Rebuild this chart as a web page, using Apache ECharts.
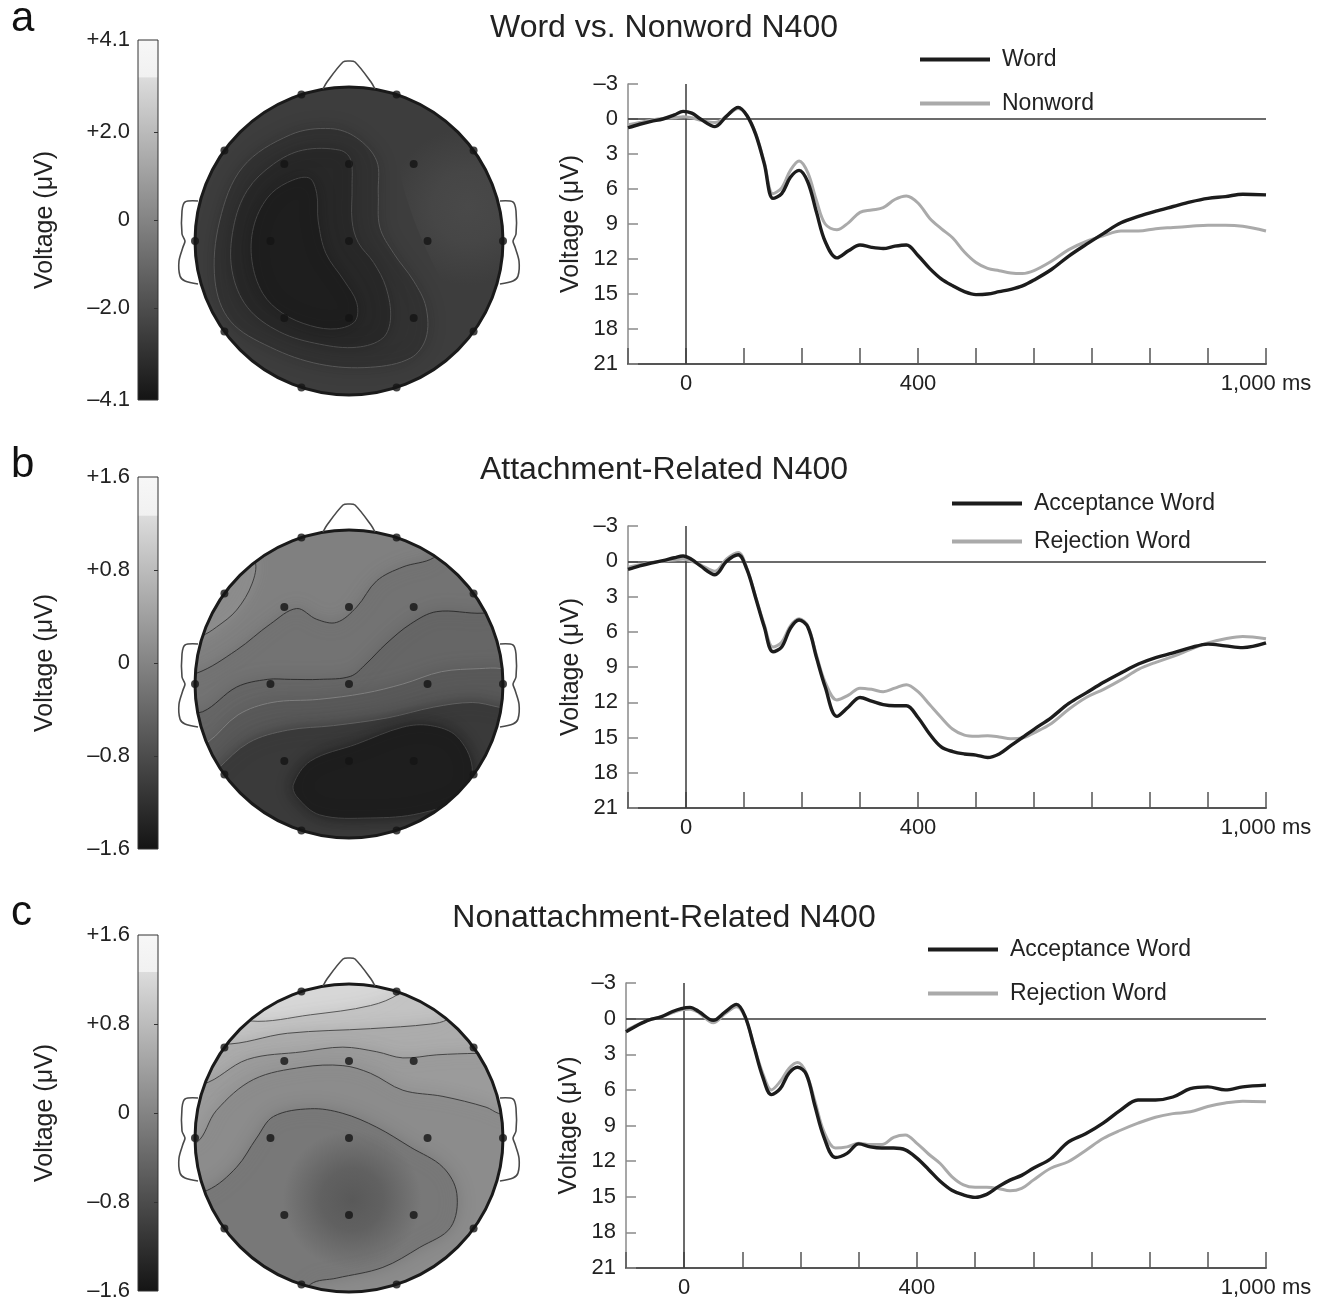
<!DOCTYPE html>
<html>
<head>
<meta charset="utf-8">
<title>N400 ERP figure</title>
<script src="https://cdn.jsdelivr.net/npm/echarts@6/dist/echarts.min.js"></script>
<style>
  html, body { margin: 0; padding: 0; background: #fff; }
  #chart { width: 1327px; height: 1302px; }
</style>
</head>
<body>
<div id="chart"></div>
<script>
// ---- waveform data (ms, µV; positive plotted downward) ----
var times = [-100, -80, -60, -40, -20, -5, 10, 25, 50, 70, 90, 105, 120, 135, 150, 165, 180, 195, 210, 225, 240,
  260, 280, 300, 320, 340, 360, 380, 400, 420, 440, 460, 480, 500, 520, 540, 560, 580, 600,
  630, 660, 690, 720, 750, 780, 810, 840, 870, 900, 930, 960, 1000];

var wordA = [0.75, 0.45, 0.2, 0.0, -0.35, -0.65, -0.5, 0.0, 0.65, -0.25, -1.0, -0.3, 1.3, 3.85, 6.8, 6.4, 5.0, 4.4, 5.4, 8.0, 10.5,
  11.9, 11.3, 10.8, 11.0, 11.1, 10.9, 10.8, 11.7, 12.8, 13.7, 14.3, 14.8, 15.05, 15.0, 14.8, 14.6, 14.3, 13.8,
  12.9, 11.75, 10.75, 9.8, 8.9, 8.35, 7.9, 7.5, 7.1, 6.8, 6.65, 6.45, 6.5];
var nonwordA = [0.5, 0.3, 0.1, -0.05, -0.1, -0.2, -0.1, 0.1, 0.3, -0.25, -0.9, -0.3, 1.2, 3.7, 6.4, 5.9, 4.4, 3.6, 4.6, 7.0, 9.0,
  9.5, 8.9, 8.0, 7.8, 7.6, 6.9, 6.6, 7.2, 8.5, 9.4, 10.2, 11.4, 12.3, 12.8, 13.0, 13.2, 13.25, 13.0,
  12.2, 11.2, 10.5, 10.0, 9.6, 9.6, 9.4, 9.3, 9.2, 9.1, 9.1, 9.2, 9.6];

var acceptB = [0.7, 0.4, 0.15, -0.05, -0.3, -0.45, -0.15, 0.4, 1.15, 0.0, -0.55, 0.7, 3.1, 5.6, 7.7, 7.3, 5.7, 5.0, 5.6, 8.2, 10.7,
  13.2, 12.4, 11.6, 11.9, 12.2, 12.3, 12.3, 13.3, 14.7, 15.8, 16.2, 16.4, 16.5, 16.7, 16.4, 15.7, 15.0, 14.3,
  13.3, 12.1, 11.2, 10.3, 9.5, 8.75, 8.2, 7.8, 7.35, 7.05, 7.2, 7.35, 6.95];
var rejectB = [0.5, 0.3, 0.1, 0.0, -0.1, -0.2, 0.0, 0.3, 0.85, -0.2, -0.75, 0.6, 3.0, 5.4, 7.3, 6.9, 5.5, 4.9, 5.5, 8.0, 10.3,
  11.8, 11.4, 10.8, 10.9, 11.1, 10.8, 10.5, 11.1, 12.2, 13.3, 14.3, 14.8, 14.9, 14.85, 14.95, 15.1, 15.05, 14.6,
  13.8, 12.6, 11.6, 10.9, 10.1, 9.2, 8.6, 8.1, 7.5, 6.95, 6.6, 6.4, 6.6];

var acceptC = [1.1, 0.55, 0.1, -0.15, -0.6, -0.85, -0.95, -0.6, 0.15, -0.55, -1.2, -0.15, 2.35, 4.9, 6.4, 5.9, 4.6, 4.1, 4.7, 7.4, 9.95,
  11.7, 11.35, 10.55, 10.8, 10.9, 10.9, 11.05, 11.75, 12.7, 13.7, 14.45, 14.85, 15.05, 14.8, 14.15, 13.6, 13.2, 12.6,
  11.8, 10.4, 9.7, 8.8, 7.7, 6.85, 6.85, 6.6, 5.9, 5.75, 6.0, 5.75, 5.6];
var rejectC = [1.0, 0.5, 0.1, -0.15, -0.5, -0.75, -0.8, -0.5, 0.35, -0.4, -1.0, -0.1, 2.3, 4.6, 6.0, 5.3, 4.2, 3.7, 4.6, 7.0, 9.5,
  10.9, 10.8, 10.5, 10.6, 10.6, 10.0, 9.8, 10.5, 11.4, 12.2, 13.3, 14.0, 14.2, 14.2, 14.3, 14.5, 14.3, 13.6,
  12.6, 12.05, 11.1, 10.1, 9.4, 8.8, 8.3, 8.0, 7.85, 7.4, 7.1, 6.95, 7.0];

var yTicks = { min: -3, max: 21, step: 3 };
var xLabelsShown = [0, 400, 1000];

// ---- colour bar ranges and tick labels ----
var barMaxA = 4.1, barMaxB = 1.6, barMaxC = 1.6;
var barTicksA = [4.1, 2.0, 0, -2.0, -4.1];
var barTicksBC = [1.6, 0.8, 0, -0.8, -1.6];

// ---- electrode sites (head units, nose up) ----
var rimSites = [[-0.309, 0.951], [0.309, 0.951], [-0.809, 0.588], [0.809, 0.588], [-1, 0], [1, 0],
  [-0.809, -0.588], [0.809, -0.588], [-0.309, -0.951], [0.309, -0.951]];
var innerSites = [[-0.42, 0.5], [0, 0.5], [0.42, 0.5], [-0.51, 0], [0, 0], [0.51, 0], [-0.42, -0.5], [0, -0.5], [0.42, -0.5]];

// ---- scalp maps: level (µV) and outline of each region; regions outside the scalp are clipped ----
var octagon = [[1.2, 0.5], [0.5, 1.2], [-0.5, 1.2], [-1.2, 0.5], [-1.2, -0.5], [-0.5, -1.2], [0.5, -1.2], [1.2, -0.5]];

var topoALevels = [-2.6, -2.15, -3.0, -3.35, -3.75];
var topoALined = [false, false, true, true, true];
var topoAShapes = [
  octagon,
  [[0.3, 1.15], [0.3, 0.75], [0.33, 0.45], [0.4, 0.2], [0.5, -0.05], [0.65, -0.35], [0.85, -0.7], [1.2, -0.6], [1.25, 0.2], [0.95, 0.95]],
  [[-0.38, 0.69], [-0.12, 0.73], [0.05, 0.67], [0.18, 0.52], [0.19, 0.31], [0.2, 0.09], [0.29, -0.08], [0.42, -0.26], [0.5, -0.43],
   [0.5, -0.63], [0.4, -0.76], [0.14, -0.82], [-0.19, -0.8], [-0.51, -0.69], [-0.77, -0.52], [-0.87, -0.26], [-0.84, 0.13], [-0.69, 0.48]],
  [[-0.49, 0.5], [-0.3, 0.59], [-0.06, 0.59], [0.01, 0.53], [0.02, 0.35], [0.02, 0.13], [0.06, -0.01], [0.16, -0.14], [0.24, -0.3],
   [0.27, -0.5], [0.22, -0.63], [0.05, -0.69], [-0.19, -0.67], [-0.45, -0.59], [-0.66, -0.43], [-0.76, -0.19], [-0.75, 0.09], [-0.66, 0.33]],
  [[-0.26, 0.41], [-0.21, 0.31], [-0.2, 0.13], [-0.15, -0.08], [-0.03, -0.26], [0.05, -0.4], [0.04, -0.52], [-0.08, -0.57],
   [-0.25, -0.55], [-0.43, -0.47], [-0.56, -0.34], [-0.63, -0.13], [-0.62, 0.09], [-0.53, 0.28], [-0.4, 0.38]]
];

var topoBLevels = [-0.05, 0.12, -0.24, -0.43, -0.62, -1.05, -1.45];
var topoBLined = [false, true, true, true, true, true, true];
var topoBShapes = [
  octagon,
  [[-0.61, 0.8], [-0.63, 0.65], [-0.73, 0.48], [-0.86, 0.37], [-0.96, 0.31], [-1.15, 0.25], [-1.0, 0.7], [-0.72, 0.95]],
  [[-0.99, 0.07], [-0.73, 0.22], [-0.51, 0.39], [-0.34, 0.49], [-0.21, 0.42], [-0.08, 0.4], [0.05, 0.5], [0.18, 0.67], [0.35, 0.76],
   [0.55, 0.82], [0.66, 0.95], [1.1, 0.5], [1.2, -0.2], [0.9, -0.85], [0.2, -1.2], [-0.6, -1.08], [-1.08, -0.55], [-1.2, 0.05]],
  [[-0.95, -0.18], [-0.73, -0.02], [-0.53, 0.03], [-0.38, 0.03], [-0.19, 0.03], [0.01, 0.05], [0.11, 0.13], [0.24, 0.26], [0.4, 0.39],
   [0.57, 0.47], [0.87, 0.46], [1.1, 0.5], [1.2, -0.2], [0.9, -0.85], [0.2, -1.2], [-0.6, -1.08], [-1.08, -0.55], [-1.15, -0.2]],
  [[-0.92, -0.38], [-0.72, -0.2], [-0.5, -0.12], [-0.2, -0.1], [0.1, -0.06], [0.35, 0.0], [0.6, 0.08], [0.85, 0.1], [0.99, 0.1],
   [1.18, 0.05], [1.15, -0.4], [0.9, -0.85], [0.2, -1.2], [-0.6, -1.08], [-1.1, -0.45]],
  [[-0.85, -0.55], [-0.65, -0.38], [-0.4, -0.3], [-0.1, -0.27], [0.25, -0.22], [0.55, -0.15], [0.8, -0.12], [0.97, -0.15],
   [1.18, -0.2], [0.9, -0.85], [0.2, -1.2], [-0.6, -1.08], [-1.0, -0.7]],
  [[-0.36, -0.65], [-0.25, -0.5], [0.05, -0.39], [0.35, -0.28], [0.53, -0.27], [0.7, -0.34], [0.8, -0.54], [0.74, -0.73],
   [0.46, -0.84], [0.14, -0.87], [-0.19, -0.85], [-0.34, -0.73]]
];

var topoCLevels = [1.19, 0.9, 0.57, 0.33, 0.12, -0.17, -0.62];
var topoCLined = [false, true, true, true, true, true, false];
var topoCShapes = [
  octagon,
  [[-0.64, 0.76], [-0.25, 0.8], [0.14, 0.86], [0.33, 0.94], [0.5, 1.1], [1.15, 0.4], [1.2, -0.2], [0.9, -0.85], [0.2, -1.2],
   [-0.6, -1.08], [-1.08, -0.55], [-1.18, 0.2], [-0.8, 0.85]],
  [[-0.82, 0.61], [-0.4, 0.68], [0.14, 0.71], [0.53, 0.74], [0.64, 0.77], [0.8, 0.9], [1.15, 0.4], [1.2, -0.2], [0.9, -0.85],
   [0.2, -1.2], [-0.6, -1.08], [-1.08, -0.55], [-1.2, 0.1], [-1.0, 0.7]],
  [[-0.95, 0.35], [-0.66, 0.51], [-0.3, 0.56], [-0.04, 0.59], [0.18, 0.56], [0.35, 0.52], [0.57, 0.54], [0.84, 0.55], [1.1, 0.55],
   [1.2, -0.2], [0.9, -0.85], [0.2, -1.2], [-0.6, -1.08], [-1.08, -0.55], [-1.2, 0.2], [-1.12, 0.4]],
  [[-0.99, -0.03], [-0.86, 0.18], [-0.62, 0.38], [-0.3, 0.46], [-0.04, 0.47], [0.14, 0.42], [0.35, 0.31], [0.61, 0.27], [0.89, 0.2],
   [0.97, 0.16], [1.18, 0.1], [1.2, -0.2], [0.9, -0.85], [0.2, -1.2], [-0.6, -1.08], [-1.08, -0.55], [-1.18, -0.05]],
  [[-0.92, -0.34], [-0.73, -0.19], [-0.6, 0.0], [-0.49, 0.14], [-0.25, 0.19], [-0.04, 0.16], [0.18, 0.07], [0.4, -0.06], [0.61, -0.19],
   [0.7, -0.36], [0.66, -0.58], [0.46, -0.71], [0.22, -0.84], [-0.08, -0.91], [-0.25, -0.95], [-0.4, -1.15], [-0.9, -0.85], [-1.15, -0.38]],
  [[0.5, -0.4], [0.36, -0.08], [0.02, 0.05], [-0.32, -0.08], [-0.46, -0.4], [-0.32, -0.72], [0.02, -0.85], [0.36, -0.72]]
];

// ---- layout ----
var FONT = "'Liberation Sans', Arial, Helvetica, sans-serif";
var erpGrids = [
  { left: 628, top: 84, width: 638, height: 280 },
  { left: 628, top: 526, width: 638, height: 282 },
  { left: 626, top: 983, width: 640, height: 285 }
];
var heads = [{ cx: 349, cy: 241, r: 154 }, { cx: 349, cy: 684, r: 154 }, { cx: 349, cy: 1138, r: 154 }];
var headSpan = { x: [-1.25, 1.25], y: [-1.02, 1.25] };
var barGrids = [
  { left: 138, top: 40, width: 20, height: 360 },
  { left: 138, top: 477, width: 20, height: 372 },
  { left: 138, top: 935, width: 20, height: 364 }
];

function grayOf(v, maxV) {
  var f = (v + maxV) / (2 * maxV);
  var g = f >= 0.894 ? 240 : 20 + 200 * f / 0.894;
  return Math.round(Math.max(16, g));
}

function pairs(vals) {
  return times.map(function (t, i) { return [t, vals[i]]; });
}

var chart = echarts.init(document.getElementById('chart'));

var grid = [], xAxis = [], yAxis = [], series = [], graphic = [];

// ERP panels
var erpDefs = [
  { dark: 'Word', light: 'Nonword', darkVals: wordA, lightVals: nonwordA },
  { dark: 'Acceptance Word', light: 'Rejection Word', darkVals: acceptB, lightVals: rejectB },
  { dark: 'Acceptance Word', light: 'Rejection Word', darkVals: acceptC, lightVals: rejectC }
];
erpDefs.forEach(function (d, i) {
  grid.push(erpGrids[i]);
  xAxis.push({
    type: 'value', gridIndex: i, min: -100, max: 1000, interval: 100,
    axisLine: { onZero: false, lineStyle: { color: '#555', width: 2 } },
    axisTick: { inside: true, length: 16, lineStyle: { color: '#555', width: 1.5 } },
    axisLabel: {
      margin: 9, fontSize: 22, fontFamily: FONT, color: '#222', showMinLabel: true, showMaxLabel: true,
      formatter: function (v) {
        if (xLabelsShown.indexOf(v) < 0) return '';
        return v === 1000 ? '1,000 ms' : String(v);
      }
    },
    splitLine: { show: false }
  });
  yAxis.push({
    type: 'value', gridIndex: i, inverse: true, min: yTicks.min, max: yTicks.max, interval: yTicks.step,
    name: 'Voltage (μV)', nameLocation: 'middle', nameGap: 44, nameRotate: 90,
    nameTextStyle: { fontSize: 25, fontFamily: FONT, color: '#222' },
    axisLine: { show: true, onZero: false, lineStyle: { color: '#8a8a8a', width: 1.5 } },
    axisTick: { inside: true, length: 10, lineStyle: { color: '#8a8a8a', width: 1.5 } },
    axisLabel: {
      margin: 10, fontSize: 22, fontFamily: FONT, color: '#222',
      formatter: function (v) { return v < 0 ? '\u2013' + (-v) : String(v); }
    },
    splitLine: { show: false }
  });
  series.push({
    name: d.light, type: 'line', xAxisIndex: i, yAxisIndex: i, data: pairs(d.lightVals),
    symbol: 'none', smooth: 0.35, z: 3, silent: true,
    itemStyle: { color: '#aaaaaa' }, lineStyle: { color: '#aaaaaa', width: 3 },
    markLine: {
      silent: true, symbol: ['none', 'none'], z: 1, animation: false,
      label: { show: false },
      lineStyle: { color: '#3a3a3a', width: 1.5, type: 'solid' },
      data: [{ yAxis: 0 }, { xAxis: 0 }]
    }
  });
  series.push({
    name: d.dark, type: 'line', xAxisIndex: i, yAxisIndex: i, data: pairs(d.darkVals),
    symbol: 'none', smooth: 0.35, z: 4, silent: true,
    itemStyle: { color: '#1c1c1c' }, lineStyle: { color: '#1c1c1c', width: 3.4 }
  });
});

// scalp maps
var topoDefs = [
  { levels: topoALevels, shapes: topoAShapes, lined: topoALined, maxV: barMaxA },
  { levels: topoBLevels, shapes: topoBShapes, lined: topoBLined, maxV: barMaxB },
  { levels: topoCLevels, shapes: topoCShapes, lined: topoCLined, maxV: barMaxC }
];
function rgba(g, a) { return 'rgba(' + g + ',' + g + ',' + g + ',' + a + ')'; }
topoDefs.forEach(function (t, i) {
  var h = heads[i], gi = 3 + i;
  grid.push({
    left: h.cx + headSpan.x[0] * h.r, top: h.cy - headSpan.y[1] * h.r,
    width: (headSpan.x[1] - headSpan.x[0]) * h.r, height: (headSpan.y[1] - headSpan.y[0]) * h.r
  });
  xAxis.push({ type: 'value', gridIndex: gi, min: headSpan.x[0], max: headSpan.x[1], show: false });
  yAxis.push({ type: 'value', gridIndex: gi, min: headSpan.y[0], max: headSpan.y[1], show: false });
  series.push({
    type: 'custom', coordinateSystem: 'cartesian2d', xAxisIndex: gi, yAxisIndex: gi, z: 1, silent: true,
    data: t.levels.map(function (lv) { return [0, 0, lv]; }),
    renderItem: function (params, api) {
      var k = params.dataIndex;
      var pts = t.shapes[k].map(function (p) { return api.coord(p); });
      var c = api.coord([0, 0]);
      var rpx = api.size([1, 1])[0];
      var g = grayOf(t.levels[k], t.maxV);
      var lined = t.lined[k];
      var lg = g > 100 ? Math.round(g * 0.45) : g + 38;
      var fill = rgba(g, 1);
      if (k > 0 && !lined) {
        // unlined shading fades out towards its edge
        fill = new echarts.graphic.RadialGradient(0.5, 0.5, 0.5, [
          { offset: 0, color: rgba(g, 1) }, { offset: 0.45, color: rgba(g, 0.75) }, { offset: 1, color: rgba(g, 0) }
        ]);
      }
      return {
        type: 'group',
        clipPath: { type: 'circle', shape: { cx: c[0], cy: c[1], r: rpx } },
        children: [{
          type: 'polygon',
          shape: { points: pts, smooth: k === 0 ? 0 : 0.35 },
          style: {
            fill: fill,
            stroke: lined ? rgba(lg, 1) : null,
            lineWidth: 1,
            shadowBlur: lined ? 16 : 0, shadowColor: lined ? rgba(g, 1) : null
          }
        }]
      };
    }
  });
  series.push({
    type: 'scatter', xAxisIndex: gi, yAxisIndex: gi, z: 6, silent: true,
    data: rimSites.concat(innerSites), symbolSize: 8, itemStyle: { color: '#141414' }
  });
});

// colour bars
var barDefs = [
  { maxV: barMaxA, ticks: barTicksA },
  { maxV: barMaxB, ticks: barTicksBC },
  { maxV: barMaxC, ticks: barTicksBC }
];
barDefs.forEach(function (b, i) {
  var gi = 6 + i;
  grid.push(Object.assign({
    show: true, borderColor: '#333', borderWidth: 1,
    backgroundColor: new echarts.graphic.LinearGradient(0, 0, 0, 1, [
      { offset: 0, color: '#f7f7f7' }, { offset: 0.104, color: '#f1f1f1' },
      { offset: 0.106, color: '#dcdcdc' }, { offset: 1, color: '#141414' }
    ])
  }, barGrids[i]));
  xAxis.push({ type: 'value', gridIndex: gi, min: 0, max: 1, show: false });
});
barDefs.forEach(function (b, i) {
  var gi = 6 + i;
  yAxis.push({
    type: 'value', gridIndex: gi, min: -b.maxV, max: b.maxV, position: 'left',
    name: 'Voltage (μV)', nameLocation: 'middle', nameGap: 80, nameRotate: 90,
    nameTextStyle: { fontSize: 25, fontFamily: FONT, color: '#222' },
    axisLine: { show: false }, axisTick: { show: false }, splitLine: { show: false },
    axisLabel: {
      customValues: b.ticks, margin: 8, fontSize: 22, fontFamily: FONT, color: '#222',
      formatter: function (v) {
        if (v > 0) return '+' + v.toFixed(1);
        if (v < 0) return '\u2013' + (-v).toFixed(1);
        return '0';
      }
    }
  });
});
barDefs.forEach(function (b, i) {
  var gi = 6 + i;
  yAxis.push({
    type: 'value', gridIndex: gi, min: -b.maxV, max: b.maxV, position: 'right',
    axisLine: { show: false }, splitLine: { show: false }, axisLabel: { show: false },
    axisTick: { show: true, inside: true, length: 4, customValues: b.ticks.slice(1, 4), lineStyle: { color: '#333' } }
  });
});

// head outline, nose and ears
var nosePts = [[-26, -152], [-22, -159], [-6, -179], [0, -180], [6, -179], [22, -159], [26, -152]];
var earPts = [[-151, -40], [-164, -39], [-167, -30], [-167, -7], [-164, 0], [-166, 6], [-170, 20], [-169, 35], [-164, 40], [-151, 43]];
heads.forEach(function (h) {
  var k = h.r / 154;
  function place(p, sx) { return [h.cx + sx * p[0] * k, h.cy + p[1] * k]; }
  graphic.push({ type: 'ring', silent: true, z: 3, shape: { cx: h.cx, cy: h.cy, r: h.r * 1.22, r0: h.r - 0.5 }, style: { fill: '#fff' } });
  graphic.push({ type: 'circle', silent: true, z: 4, shape: { cx: h.cx, cy: h.cy, r: h.r }, style: { fill: 'none', stroke: '#1a1a1a', lineWidth: 3 } });
  graphic.push({ type: 'polyline', silent: true, z: 4, shape: { points: nosePts.map(function (p) { return place(p, 1); }), smooth: 0.3 }, style: { fill: 'none', stroke: '#4a4a4a', lineWidth: 1.6 } });
  [1, -1].forEach(function (sx) {
    graphic.push({ type: 'polyline', silent: true, z: 4, shape: { points: earPts.map(function (p) { return place(p, sx); }), smooth: 0.3 }, style: { fill: 'none', stroke: '#4a4a4a', lineWidth: 1.6 } });
  });
});

// panel letters and titles
var letters = [['a', 19], ['b', 465], ['c', 913]];
letters.forEach(function (l) {
  graphic.push({ type: 'text', x: 11, y: l[1], style: { text: l[0], fontSize: 42, fontFamily: FONT, fill: '#111', verticalAlign: 'middle' } });
});
var titles = [['Word vs. Nonword N400', 28], ['Attachment-Related N400', 470], ['Nonattachment-Related N400', 918]];
titles.forEach(function (t) {
  graphic.push({ type: 'text', x: 664, y: t[1], style: { text: t[0], fontSize: 32, fontFamily: FONT, fill: '#222', align: 'center', verticalAlign: 'middle' } });
});

function legendAt(names, left, top, gap) {
  return {
    data: names, left: left, top: top, orient: 'vertical', itemGap: gap, selectedMode: false, padding: 0,
    icon: 'rect', itemWidth: 70, itemHeight: 4,
    textStyle: { fontSize: 23, fontFamily: FONT, color: '#222', padding: [0, 0, 0, 7] }
  };
}

chart.setOption({
  animation: false,
  backgroundColor: '#fff',
  textStyle: { fontFamily: FONT },
  grid: grid,
  xAxis: xAxis,
  yAxis: yAxis,
  legend: [
    legendAt(['Word', 'Nonword'], 920, 48, 21),
    legendAt(['Acceptance Word', 'Rejection Word'], 952, 492, 15),
    legendAt(['Acceptance Word', 'Rejection Word'], 928, 938, 21)
  ],
  graphic: graphic,
  series: series
});
</script>
</body>
</html>
